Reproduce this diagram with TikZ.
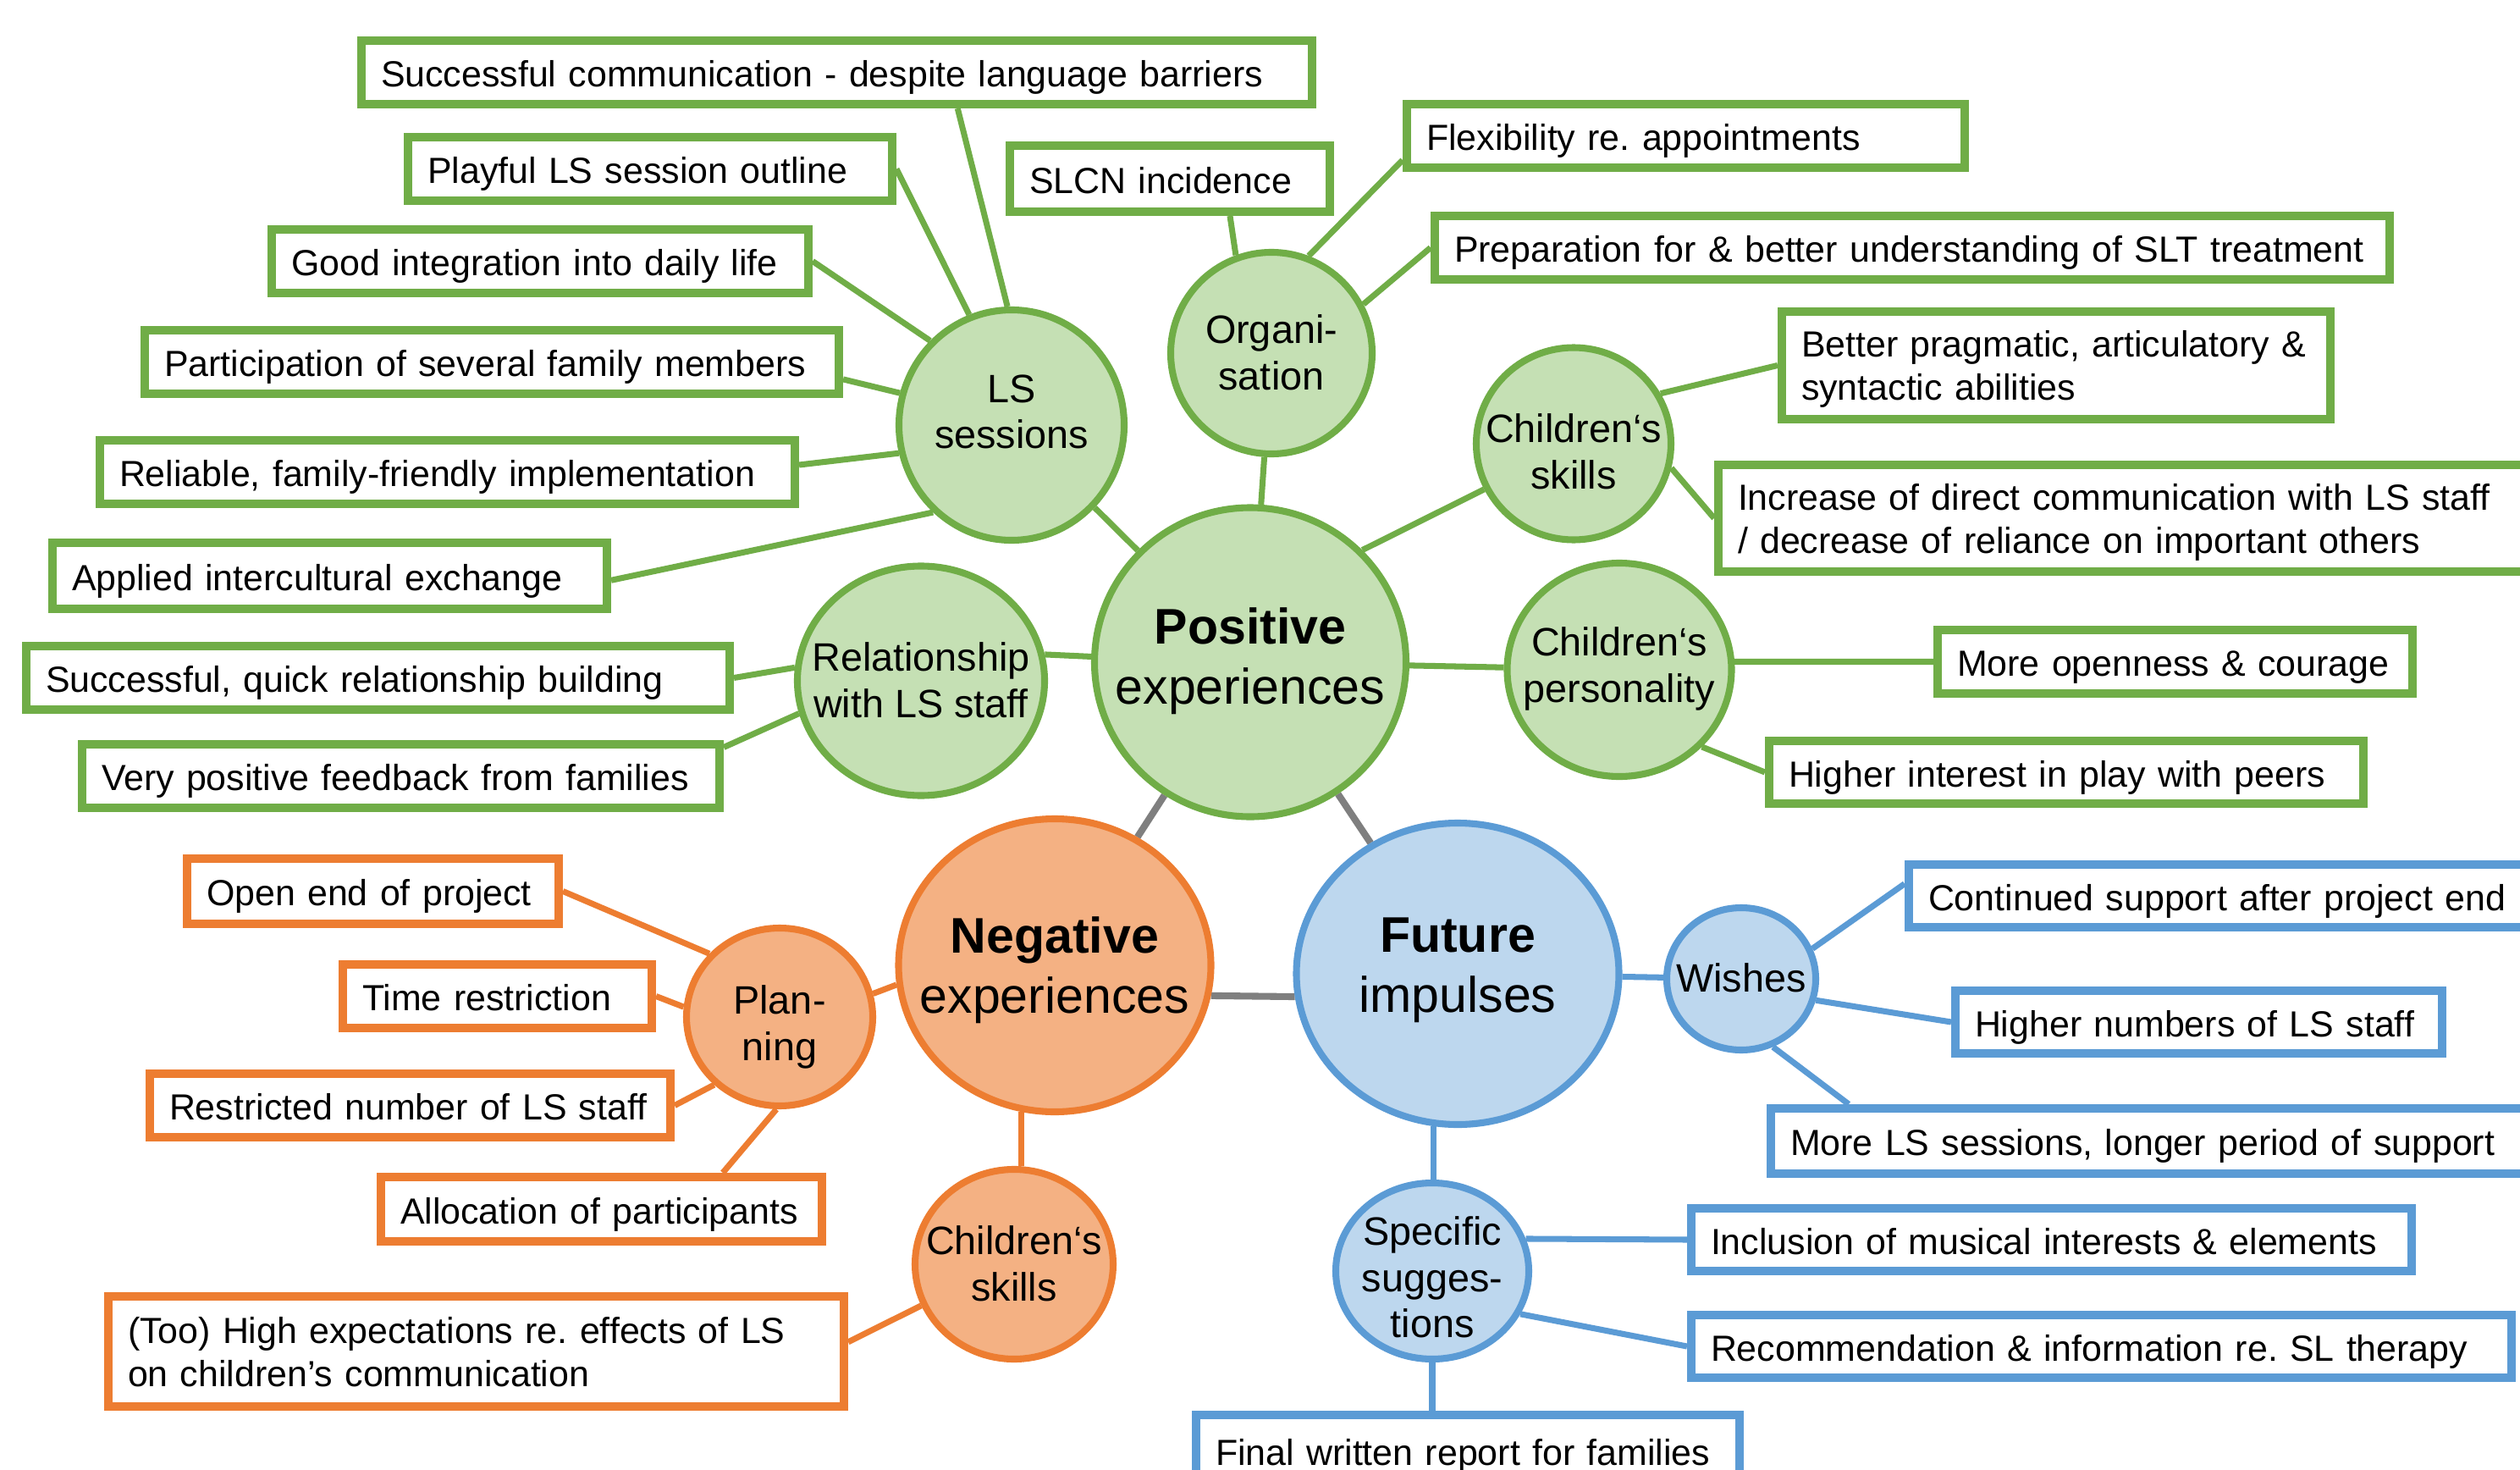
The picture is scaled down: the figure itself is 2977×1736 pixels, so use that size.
\documentclass[tikz,border=0pt]{standalone}
\usepackage{fontspec}
\setmainfont{Liberation Sans}
\usetikzlibrary{shapes.geometric,calc,backgrounds}
\frenchspacing
\definecolor{gline}{HTML}{70AD47}
\definecolor{gfill}{HTML}{C5E0B4}
\definecolor{oline}{HTML}{ED7D31}
\definecolor{ofill}{HTML}{F4B183}
\definecolor{bline}{HTML}{5B9BD5}
\definecolor{bfill}{HTML}{BDD7EE}
\definecolor{kline}{HTML}{7F7F7F}
\def\ctshift{0pt}
\newcommand\circtext[1]{\makebox[0pt]{\raisebox{\dimexpr-0.37em+\ctshift\relax}[0pt][0pt]{\begin{tabular}{@{}c@{}}#1\end{tabular}}}}
% name, style, L, T, R, B, text  (pixel coordinates of outer edges)
\newcommand\mkbox[7]{%
  \pgfmathsetmacro\mbw{(#5-#3-10)*0.01-0.46}%
  \pgfmathsetmacro\mbh{(#6-#4-10)*0.01}%
  \node[#2, text width=\mbw cm, minimum height=\mbh cm] (#1) at ({(#3+#5)/2},{(#4+#6)/2}) {\begin{tabular}[t]{@{}l@{}}#7\end{tabular}};%
}
% name, style, cx, cy, w, h, text
\newcommand\mkcirc[7]{%
  \pgfmathsetmacro\mcw{(#5-8)*0.01}%
  \pgfmathsetmacro\mch{(#6-8)*0.01}%
  \node[#2, minimum width=\mcw cm, minimum height=\mch cm] (#1) at (#3,#4) {\circtext{#7}};%
}
\tikzset{
  bxbase/.style={draw, line width=2.85pt, fill=white, inner xsep=0.23cm, inner ysep=0pt, align=left, font=\fontsize{12.2}{14.6}\selectfont},
  one/.style={text height=9.75pt, text depth=0pt},
  two/.style={text height=8.75pt, text depth=14.4pt},
  gbx/.style={bxbase, draw=gline},
  obx/.style={bxbase, draw=oline},
  bbx/.style={bxbase, draw=bline},
  cbase/.style={ellipse, line width=2.3pt, inner sep=0pt, font=\fontsize{13.3}{15.6}\selectfont},
  gci/.style={cbase, draw=gline, fill=gfill},
  oci/.style={cbase, draw=oline, fill=ofill},
  bci/.style={cbase, draw=bline, fill=bfill},
  bigt/.style={font=\fontsize{16.8}{20.2}\selectfont},
  tshift/.code={\def\ctshift{#1}},
  gcon/.style={draw=gline, line width=2pt},
  ocon/.style={draw=oline, line width=2pt},
  bcon/.style={draw=bline, line width=2pt},
  kcon/.style={draw=kline, line width=2.3pt}
}
\begin{document}
\begin{tikzpicture}[x=0.01cm, y=-0.01cm]
\useasboundingbox (0,0) rectangle (2977,1736);
\clip (0,0) rectangle (2977,1736);

% ---- circles ----
\mkcirc{pos}{gci,bigt,tshift=1.9pt}{1477}{782}{376}{373}{\textbf{Positive}\\experiences}
\mkcirc{neg}{oci,bigt}{1246}{1140}{377}{354}{\textbf{Negative}\\experiences}
\mkcirc{fut}{bci,bigt,tshift=3pt}{1722}{1150}{389}{364}{\textbf{Future}\\impulses}
\mkcirc{ls}{gci,tshift=4.3pt}{1195}{502}{274}{280}{LS\\sessions}
\mkcirc{org}{gci}{1502}{417}{246}{246}{Organi-\\sation}
\mkcirc{cskill}{gci,tshift=-3pt}{1859}{524}{238}{235}{Children‘s\\skills}
\mkcirc{cpers}{gci,tshift=1.3pt}{1913}{791}{273}{260}{Children‘s\\personality}
\mkcirc{rel}{gci}{1088}{804}{300}{279}{Relationship\\with LS staff}
\mkcirc{plan}{oci,tshift=-2.4pt}{921}{1201}{228}{218}{Plan-\\ning}
\mkcirc{okids}{oci}{1198}{1493}{242}{232}{Children‘s\\skills}
\mkcirc{wish}{bci}{2057}{1156}{184}{176}{Wishes}
\mkcirc{spec}{bci,tshift=-2.4pt}{1692}{1501}{236}{216}{Specific\\sugges-\\tions}

% ---- green boxes ----
\mkbox{g1}{gbx,one}{422}{43}{1555}{128}{Successful communication - despite language barriers}
\mkbox{g2}{gbx,one}{477}{157}{1059}{242}{Playful LS session outline}
\mkbox{g3}{gbx,one}{316}{266}{960}{351}{Good integration into daily life}
\mkbox{g4}{gbx,one}{166}{385}{996}{470}{Participation of several family members}
\mkbox{g5}{gbx,one}{113}{515}{944}{600}{Reliable, family-friendly implementation}
\mkbox{g6}{gbx,one}{57}{636}{722}{724}{Applied intercultural exchange}
\mkbox{g7}{gbx,one}{26}{758}{867}{843}{Successful, quick relationship building}
\mkbox{g8}{gbx,one}{92}{874}{855}{959}{Very positive feedback from families}
\mkbox{g9}{gbx,one}{1188}{167}{1576}{255}{SLCN incidence}
\mkbox{g10}{gbx,one}{1657}{118}{2326}{203}{Flexibility re. appointments}
\mkbox{g11}{gbx,one}{1690}{250}{2828}{335}{Preparation for \& better understanding of SLT treatment}
\mkbox{g12}{gbx,two}{2100}{363}{2758}{500}{Better pragmatic, articulatory \&\\syntactic abilities}
\mkbox{g13}{gbx,two}{2025}{544}{3000}{680}{Increase of direct communication with LS staff\\/ decrease of reliance on important others}
\mkbox{g14}{gbx,one}{2284}{739}{2855}{824}{More openness \& courage}
\mkbox{g15}{gbx,one}{2085}{870}{2797}{954}{Higher interest in play with peers}

% ---- orange boxes ----
\mkbox{o1}{obx,one}{216}{1009}{665}{1096}{Open end of project}
\mkbox{o2}{obx,one}{400}{1134}{775}{1219}{Time restriction}
\mkbox{o3}{obx,one}{172}{1263}{797}{1348}{Restricted number of LS staff}
\mkbox{o4}{obx,one}{445}{1385}{976}{1471}{Allocation of participants}
\mkbox{o5}{obx,two}{123}{1526}{1002}{1666}{(Too) High expectations re. effects of LS\\on children’s communication}

% ---- blue boxes ----
\mkbox{b1}{bbx,one}{2250}{1016}{3000}{1100}{Continued support after project end}
\mkbox{b2}{bbx,one}{2305}{1165}{2890}{1249}{Higher numbers of LS staff}
\mkbox{b3}{bbx,one}{2087}{1304}{3000}{1391}{More LS sessions, longer period of support}
\mkbox{b4}{bbx,one}{1993}{1422}{2854}{1506}{Inclusion of musical interests \& elements}
\mkbox{b5}{bbx,one}{1993}{1548}{2972}{1632}{Recommendation \& information re. SL therapy}
\mkbox{b6}{bbx,one}{1408}{1666}{2060}{1760}{Final written report for families}

% ---- connectors ----
\begin{scope}[on background layer]
\fill[white] (0,0) rectangle (2977,1736);
% green
\draw[gcon] ($(g1.south west)!0.626!(g1.south east)$) -- (ls.92);
\draw[gcon] (g2.east) -- (ls.111);
\draw[gcon] (g3.east) -- (ls.134);
\draw[gcon] ($(g4.north east)!0.74!(g4.south east)$) -- (ls.164);
\draw[gcon] ($(g5.north east)!0.4!(g5.south east)$) -- (ls.194);
\draw[gcon] ($(g6.north east)!0.56!(g6.south east)$) -- (ls.228);
\draw[gcon] (ls) -- (pos);
\draw[gcon] (org) -- (pos);
\draw[gcon] (pos.45) -- (cskill.207);
\draw[gcon] (pos) -- (cpers);
\draw[gcon] (rel.12) -- (pos.178);
\draw[gcon] ($(g9.south west)!0.683!(g9.south east)$) -- (org.110);
\draw[gcon] ($(g10.north west)!0.835!(g10.south west)$) -- (org.69);
\draw[gcon] (g11.west) -- (org.28);
\draw[gcon] (g12.west) -- (cskill.30);
\draw[gcon] (g13.west) -- (cskill.-14);
\draw[gcon] (g14.west) -- (cpers.4);
\draw[gcon] (g15.west) -- (cpers.-43);
\draw[gcon] (g7.east) -- (rel.174);
\draw[gcon] ($(g8.north east)!0.1!(g8.south east)$) -- (rel.195);
% grey
\draw[kcon] (pos) -- (neg);
\draw[kcon] (pos) -- (fut);
\draw[kcon] (neg.-11) -- (fut.188);
% orange
\draw[ocon] (neg.187) -- (plan.14);
\draw[ocon] (neg.257) -- (neg.257 |- okids.north);
\draw[ocon] (o1.east) -- (plan.138);
\draw[ocon] (o2.east) -- (plan.174);
\draw[ocon] (o3.east) -- (plan.226);
\draw[ocon] ($(o4.north west)!0.77!(o4.north east)$) -- (plan.268);
\draw[ocon] ($(o5.north east)!0.42!(o5.south east)$) -- (okids.204);
% blue
\draw[bcon] (fut) -- (wish);
\draw[bcon] (fut.261) -- (fut.261 |- spec.north);
\draw[bcon] ($(b1.north west)!0.33!(b1.south west)$) -- (wish.23);
\draw[bcon] (b2.west) -- (wish.-16);
\draw[bcon] ($(b3.north west)+(97,0)$) -- (wish.295);
\draw[bcon] (b4.west) -- (spec.19);
\draw[bcon] (b5.west) -- (spec.-26);
\draw[bcon] (spec.south) -- (spec.south |- b6.north);
\end{scope}
\end{tikzpicture}
\end{document}
